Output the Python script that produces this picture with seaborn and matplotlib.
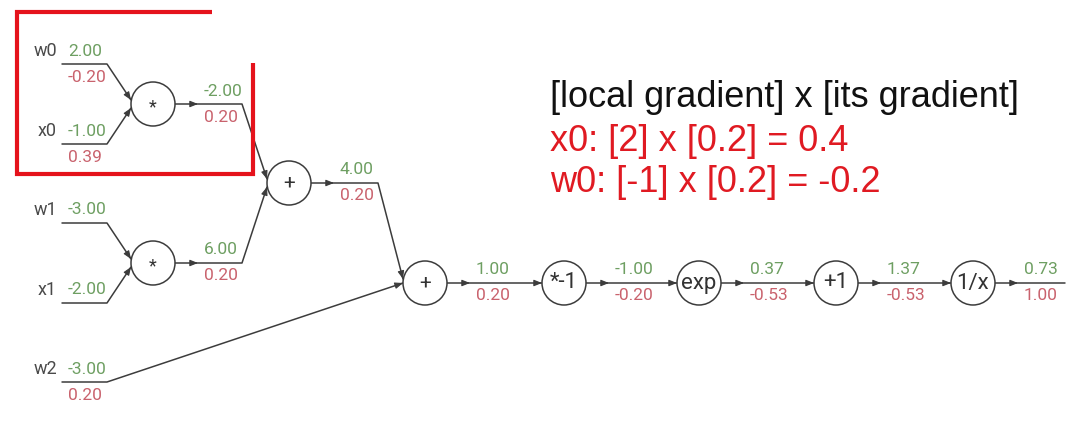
import numpy as np
import pandas as pd
import matplotlib
matplotlib.use("Agg")
import matplotlib.pyplot as plt
from matplotlib.patches import Circle
import seaborn as sns

# inputs (name, forward value, backward gradient, y of input wire)
INPUT_NAMES = ["w0", "x0", "w1", "x1", "w2"]
INPUT_VALUES = ["2.00", "-1.00", "-3.00", "-2.00", "-3.00"]
INPUT_GRADS = ["-0.20", "0.39", "", "", "0.20"]
INPUT_Y = [64, 144, 223, 303, 382]
INPUT_TARGET = [0, 0, 1, 1, 3]

# gate nodes
NODE_OPS = ["*", "*", "+", "+", "*-1", "exp", "+1", "1/x"]
NODE_X = [153, 153, 289, 425, 564, 699, 836, 973]
NODE_Y = [104, 263, 183, 283, 283, 283, 283, 283]
NODE_OUT_VALUES = ["-2.00", "6.00", "4.00", "1.00", "-1.00", "0.37", "1.37", "0.73"]
NODE_OUT_GRADS = ["0.20", "0.20", "0.20", "0.20", "-0.20", "-0.53", "-0.53", "1.00"]
NODE_TARGET = [2, 2, 3, 4, 5, 6, 7, None]

EXPLAIN_LINES = ["[local gradient] x [its gradient]",
                 "x0: [2] x [0.2] = 0.4",
                 "w0: [-1] x [0.2] = -0.2"]

R = 22
WIRE_X0, WIRE_X1 = 62, 107
OUT_LEN = 67
GREEN = "#6e9f62"
PINK = "#c9626d"
LINE = "#3c3c3c"
RED = "#e5131c"

sns.set_theme(style="white")
plt.rcParams["font.family"] = ["Roboto", "DejaVu Sans"]

fig = plt.figure(figsize=(10.7, 4.21), dpi=100)
ax = fig.add_axes([0, 0, 1, 1])
ax.set_xlim(0, 1070)
ax.set_ylim(421, 0)
ax.axis("off")


def entry_point(node, side):
    # where a wire enters a gate: on the left of the circle, a bit up or down
    return NODE_X[node] - R, NODE_Y[node] + side


segs = []
heads = []
mids = []

# input wires
for i, name in enumerate(INPUT_NAMES):
    t = INPUT_TARGET[i]
    y = INPUT_Y[i]
    if t == 3:
        side = 0
    else:
        side = -4 if y < NODE_Y[t] else 4
    ex, ey = entry_point(t, side)
    segs.append(pd.DataFrame({"x": [WIRE_X0, WIRE_X1, ex], "y": [y, y, ey], "edge": name}))
    heads.append(((WIRE_X1, y), (ex, ey)))

# gate outputs
for n, op in enumerate(NODE_OPS):
    sx = NODE_X[n] + R
    y = NODE_Y[n]
    t = NODE_TARGET[n]
    if t is None:
        xs, ys = [sx, 1065], [y, y]
    elif NODE_Y[t] == y:
        ex, ey = entry_point(t, 0)
        xs, ys = [sx, ex], [y, ey]
        heads.append(((sx, y), (ex, ey)))
    else:
        bend = sx + OUT_LEN
        side = -4 if y < NODE_Y[t] else 4
        ex, ey = entry_point(t, side)
        xs, ys = [sx, bend, ex], [y, y, ey]
        heads.append(((bend, y), (ex, ey)))
    segs.append(pd.DataFrame({"x": xs, "y": ys, "edge": "n%d" % n}))
    mids.append((sx + 20, y))

edges = pd.concat(segs, ignore_index=True)
sns.lineplot(data=edges, x="x", y="y", units="edge", estimator=None, sort=False,
             color=LINE, linewidth=1.1, legend=False, ax=ax)

# arrow heads at the gate inputs and in the middle of output wires
HEAD = "-|>,head_length=0.4,head_width=0.16"
for (x0, y0), (x1, y1) in heads:
    d = np.array([x1 - x0, y1 - y0], dtype=float)
    d /= np.hypot(*d)
    ax.annotate("", xy=(x1, y1), xytext=(x1 - 6 * d[0], y1 - 6 * d[1]),
                arrowprops=dict(arrowstyle=HEAD, color=LINE, lw=0.8,
                                shrinkA=0, shrinkB=0), zorder=4)
for x, y in mids:
    ax.annotate("", xy=(x + 3, y), xytext=(x - 3, y),
                arrowprops=dict(arrowstyle=HEAD, color=LINE, lw=0.8,
                                shrinkA=0, shrinkB=0), zorder=4)

# gates
for n, op in enumerate(NODE_OPS):
    ax.add_patch(Circle((NODE_X[n], NODE_Y[n]), R, facecolor="white",
                        edgecolor=LINE, lw=1.1, zorder=5))
    if op == "*":
        fs, dy = 13, 3
    elif op == "+":
        fs, dy = 15, 0
    else:
        fs, dy = 16, 0
    ax.text(NODE_X[n], NODE_Y[n] + dy, op, ha="center", va="center",
            fontsize=fs, color="#333333", zorder=6)
    lx = NODE_X[n] + R + 29
    ax.text(lx, NODE_Y[n] - 13, NODE_OUT_VALUES[n], ha="left", va="center",
            fontsize=12.5, color=GREEN)
    ax.text(lx, NODE_Y[n] + 13, NODE_OUT_GRADS[n], ha="left", va="center",
            fontsize=12.5, color=PINK)

# input labels
for i, name in enumerate(INPUT_NAMES):
    y = INPUT_Y[i]
    ax.text(57, y - 13, name, ha="right", va="center", fontsize=13, color="#4a4a4a")
    ax.text(68, y - 13, INPUT_VALUES[i], ha="left", va="center",
            fontsize=12.5, color=GREEN)
    if INPUT_GRADS[i]:
        ax.text(68, y + 13, INPUT_GRADS[i], ha="left", va="center",
                fontsize=12.5, color=PINK)

# explanation text
for k, (line, base) in enumerate(zip(EXPLAIN_LINES, [107, 151, 192])):
    ax.text(550, base, line, ha="left", va="baseline", fontsize=26,
            family=["Liberation Sans", "DejaVu Sans"],
            color="#111111" if k == 0 else "#e01a22")

# red highlight box
ax.plot([212, 17, 17, 253, 253], [12, 12, 174, 174, 63], color=RED, lw=3,
        solid_joinstyle="miter", solid_capstyle="butt")

fig.savefig("out.png", dpi=100)
